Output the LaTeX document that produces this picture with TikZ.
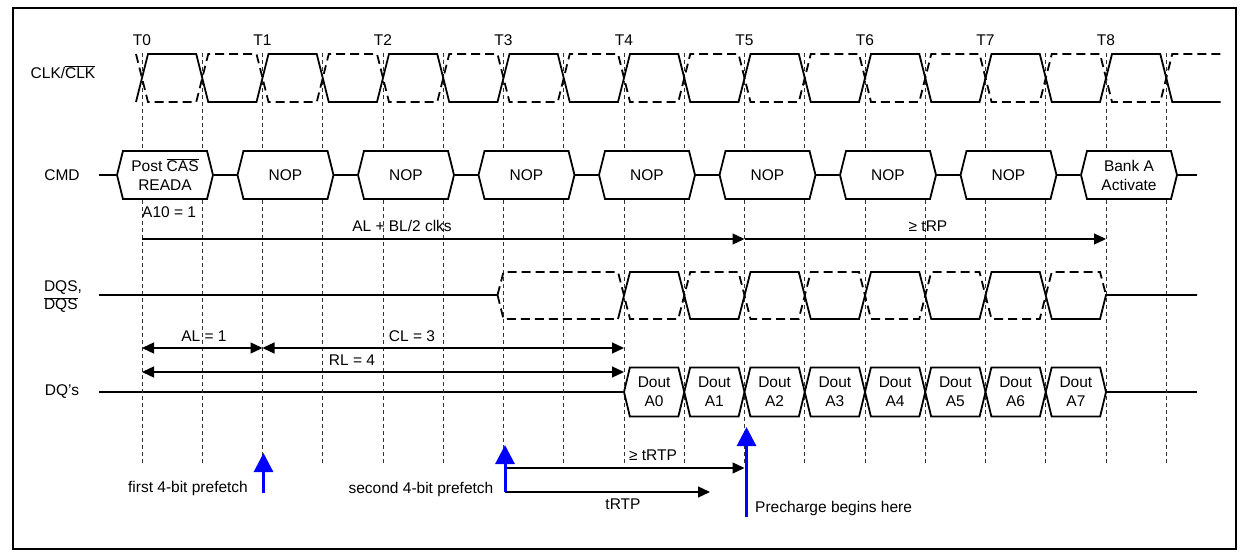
\documentclass[tikz,border=0pt]{standalone}
\usepackage{fontspec}
\setmainfont{Liberation Sans}
\usetikzlibrary{arrows.meta, shapes.symbols, backgrounds}

\newcommand{\ovl}[1]{$\overline{\mbox{#1}}$}

\tikzset{
	sig/.style = {line width = 1.8pt},
	sigdash/.style = {line width = 1.8pt, dash pattern = on 9pt off 5pt},
	gridline/.style = {line width = 0.7pt, dash pattern = on 4pt off 3pt, black!80},
	cmdbox/.style = {signal, signal to = west and east, signal pointer angle = 152, draw, fill = white,
		line width = 1.8pt, minimum width = 96pt, minimum height = 48pt, inner sep = 0pt, align = center},
	doutbox/.style = {cmdbox, signal pointer angle = 153, minimum width = 60.25pt, minimum height = 49pt},
	dim/.style = {line width = 1.3pt, -{Triangle[length = 12pt, width = 11pt]}},
	dimboth/.style = {line width = 1.3pt, {Triangle[length = 12pt, width = 11pt]}-{Triangle[length = 12pt, width = 11pt]}},
	fetch/.style = {line width = 3pt, blue, -{Triangle[length = 19pt, width = 19pt]}},
}

\begin{document}
\begin{tikzpicture}[x = 1pt, y = -1pt, font = \fontsize{15.5}{19}\selectfont, inner sep = 1pt,
	declare function = {tx(\i) = 142 + 120.5*\i;}]
	\useasboundingbox (0, 0) rectangle (1241, 556);
	\draw[line width = 2.5pt] (13, 8) rectangle (1236, 549);
	
	% clock grid
	\foreach \k in {0, 0.5, ..., 8.5}
		\draw[gridline] ({tx(\k)}, 53) -- ({tx(\k)}, 465);
	\foreach \k in {0, ..., 8}
		\node (t\k) at ({tx(\k)}, 40) {T\k};
	
	% CLK
	\node (clk) at (63, 72) {CLK/\ovl{CLK}};
	\draw[sig] ({tx(0) - 6}, 102) foreach \k in {0, ..., 8} {
		-- ({tx(\k) + 6}, 54) -- ({tx(\k + 0.5) - 6}, 54) -- ({tx(\k + 0.5) + 6}, 102) -- ({tx(\k + 1) - 6}, 102)};
	\draw[sigdash] ({tx(0) - 6}, 54) foreach \k in {0, ..., 8} {
		-- ({tx(\k) + 6}, 102) -- ({tx(\k + 0.5) - 6}, 102) -- ({tx(\k + 0.5) + 6}, 54) -- ({tx(\k + 1) - 6}, 54)};
	
	% CMD
	\node (cmd) at (62, 175) {CMD};
	\node[cmdbox] (cmd0) at ({tx(0) + 23}, 175) {Post \ovl{CAS}\\READA};
	\foreach \k in {1, ..., 7}
		\node[cmdbox] (cmd\k) at ({tx(\k) + 23}, 175) {NOP};
	\node[cmdbox] (cmd8) at ({tx(8) + 23}, 175) {Bank A\\Activate};
	\node[anchor = west] (a10) at (141, 212) {A10 = 1};
	
	\draw[dim] ({tx(0)}, 239) -- ({tx(5)}, 239);
	\draw[dim] ({tx(5)}, 239) -- ({tx(8)}, 239);
	\node (albl) at (402, 226) {AL + BL/2 clks};
	\node (trp) at (928, 226) {≥ tRP};
	
	% DQS
	\node[align = left] (dqs) at (63, 297) {DQS,\\[-1pt]\ovl{DQS}};
	\draw[sig] (99, 295) -- ({tx(3) - 6}, 295);
	\draw[sigdash] ({tx(3) - 6}, 295) -- ({tx(3)}, 319) -- ({tx(4) - 6}, 319);
	\draw[sigdash] ({tx(3) - 6}, 295) -- ({tx(3)}, 272) -- ({tx(4) - 6}, 272) foreach \k in {4, ..., 7} {
		-- ({tx(\k) + 6}, 319) -- ({tx(\k + 0.5) - 6}, 319) -- ({tx(\k + 0.5) + 6}, 272) -- ({tx(\k + 1) - 6}, 272)}
		-- ({tx(8)}, 295);
	\draw[sig] ({tx(4) - 6}, 319) foreach \k in {4, ..., 7} {
		-- ({tx(\k) + 6}, 272) -- ({tx(\k + 0.5) - 6}, 272) -- ({tx(\k + 0.5) + 6}, 319) -- ({tx(\k + 1) - 6}, 319)}
		-- ({tx(8)}, 295) -- (1197, 295);
	
	% latencies
	\draw[dimboth] ({tx(0)}, 348) -- ({tx(1)}, 348);
	\draw[dimboth] ({tx(1)}, 348) -- ({tx(4)}, 348);
	\draw[dimboth] ({tx(0)}, 372) -- ({tx(4)}, 372);
	\node (al) at (204, 336) {AL = 1};
	\node (cl) at (412, 336) {CL = 3};
	\node (rl) at (352, 360) {RL = 4};
	
	% DQ
	\node (dq) at (62, 392) {DQ's};
	\foreach \k [count = \n from 0] in {4, 4.5, ..., 7.5}
		\node[doutbox] (dq\n) at ({tx(\k) + 30.125}, 392) {Dout\\A\n};
	
	\begin{scope}[on background layer]
		\draw[sig] (99, 175) -- (cmd0.west);
		\foreach \k [evaluate = \k as \j using int(\k + 1)] in {0, ..., 7}
			\draw[sig] (cmd\k.east) -- (cmd\j.west);
		\draw[sig] (cmd8.east) -- (1197, 175);
		\draw[sig] (99, 392) -- (dq0.west);
		\draw[sig] (dq7.east) -- (1197, 392);
	\end{scope}
	
	% prefetch and precharge
	\draw[dim] (505, 492) -- (505, 468) -- ({tx(5)}, 468);
	\draw[dim] (505, 492) -- (710, 492);
	\node (trtpmin) at (653, 455) {≥ tRTP};
	\node (trtp) at (623, 504) {tRTP};
	\draw[fetch] ({tx(1) + 1}, 493) -- ({tx(1) + 1}, 453);
	\draw[fetch] (505, 492) -- (505, 445);
	\draw[fetch] ({tx(5) + 2}, 517) -- ({tx(5) + 2}, 427);
	\node (first) at (188, 488) {first 4-bit prefetch};
	\node (second) at (421, 489) {second 4-bit prefetch};
	\node[anchor = west] (prech) at (754, 508) {Precharge begins here};
\end{tikzpicture}
\end{document}
